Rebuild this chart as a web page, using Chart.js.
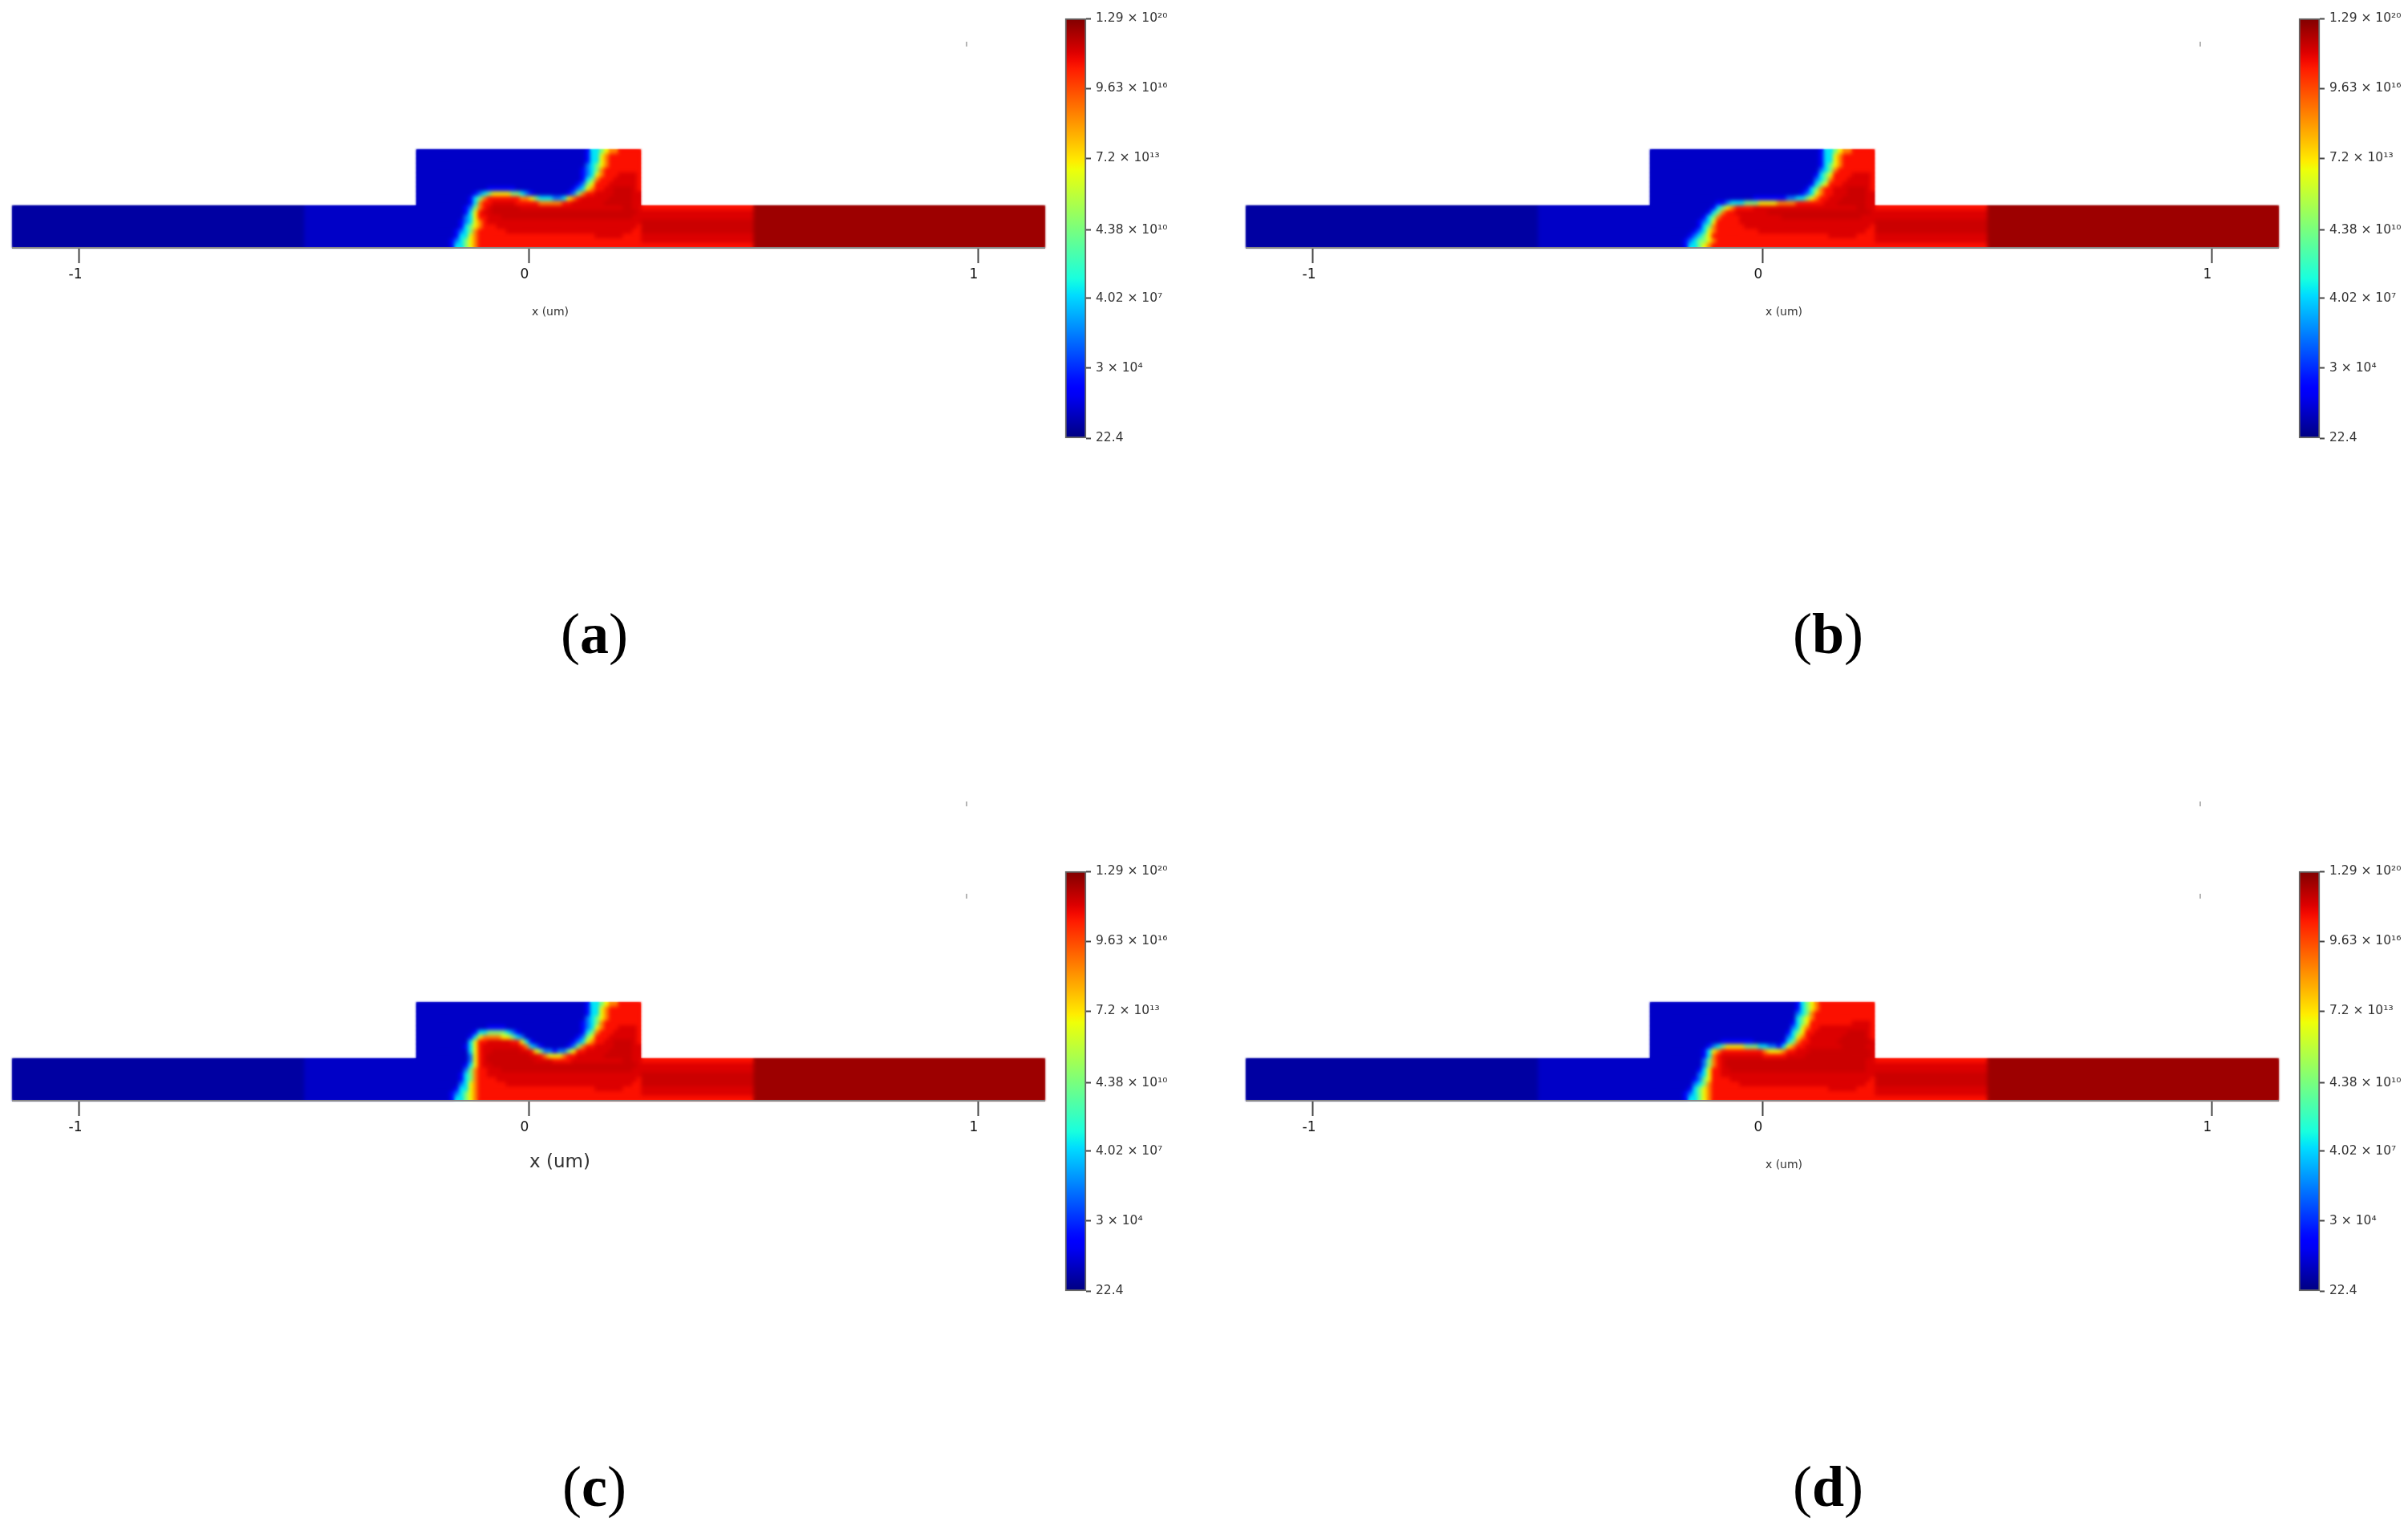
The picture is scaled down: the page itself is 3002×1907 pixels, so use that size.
<!DOCTYPE html>
<html>
<head>
<meta charset="utf-8">
<script src="https://cdn.jsdelivr.net/npm/chart.js@4"></script>
<style>
  html, body { margin: 0; padding: 0; background: #fff; }
  body { position: relative; width: 3002px; height: 1907px; overflow: hidden; }
  canvas { position: absolute; }
  canvas.base { filter: blur(0.8px); }
  canvas.soft { filter: blur(2.6px); clip-path: polygon(0 70px, 504px 70px, 504px 0, 784px 0, 784px 70px, 1288px 70px, 1288px 123px, 0 123px); }
  canvas.axis { filter: blur(0.6px); }
  canvas.bar { filter: blur(0.7px); }
  .xlabel { position: absolute; transform: translate(-50%, -50%); font-family: "DejaVu Sans"; color: #333; filter: blur(0.5px); white-space: nowrap; }
  .caption { position: absolute; transform: translate(-50%, -50%); font: 72px "Liberation Serif"; color: #000; }
  .speck { position: absolute; width: 2px; height: 6px; background: #b5b5b5; }
</style>
</head>
<body>
<script>
// log10 of the concentration for each level character used in the rows below
const levelChars = '0123456789AB'
const levelLogs = [1.91, 2.51, 3.41, 5.85, 7.92, 10.73, 13.54, 15.8, 18.1, 18.61, 18.89, 19.64]

// the source/drain stretches of the channel, one char per channel row
const farLeftLevels = '000000000'
const nearLeftLevels = '111111111'
const nearRightLevels = '899AAA998'
const farRightLevels = 'BBBBBBBBB'
const outerEdges = [[-1.15, -0.5], [-0.5, -0.25], [0.25, 0.5], [0.5, 1.15]]

// central block x -0.25..0.25, 48 columns, 21 rows top to bottom
const rowsA = [
  '11111111 11111111 11111111 11111111 11112445 67788888',
  '11111111 11111111 11111111 11111111 11112446 78888888',
  '11111111 11111111 11111111 11111111 11112446 78888888',
  '11111111 11111111 11111111 11111111 11113456 78888888',
  '11111111 11111111 11111111 11111111 11123457 88888888',
  '11111111 11111111 11111111 11111111 11123467 88899998',
  '11111111 11111111 11111111 11111111 11124578 88999998',
  '11111111 11111111 11111111 11111111 11235688 89999998',
  '11111111 11111112 22222111 11111111 12346788 99AAAA98',
  '11111111 11112345 66665543 21111111 23578899 99AAAA99',
  '11111111 11124578 88888877 65444334 67899999 9AAAAA99',
  '11111111 11124788 99999888 88777778 89999999 AAAAAA99',
  '11111111 11235789 AAAAAA99 99999999 99999999 9999AA99',
  '11111111 11246899 AAAAAAAA AAAAAAAA AAAAAAAA AAAAAAA9',
  '11111111 11346889 99AAAAAA AAAAAAAA AAAAAAAA AAAAAA99',
  '11111111 12346789 99999999 99999999 99999999 99999999',
  '11111111 12456788 89999999 99999999 99999999 99999998',
  '11111111 23457888 88899999 99999999 99999999 99999988',
  '11111111 24467888 88888888 88888888 88888899 99998888',
  '11111112 34567888 88888888 88888888 88888888 88888888',
  '11111112 44567888 88888888 88888888 88888888 88888888'
]
const rowsB = [
  '11111111 11111111 11111111 11111111 11112445 67788888',
  '11111111 11111111 11111111 11111111 11112446 78888888',
  '11111111 11111111 11111111 11111111 11112446 78888888',
  '11111111 11111111 11111111 11111111 11112456 78888888',
  '11111111 11111111 11111111 11111111 11113457 88888888',
  '11111111 11111111 11111111 11111111 11124568 88899998',
  '11111111 11111111 11111111 11111111 11134578 88999998',
  '11111111 11111111 11111111 11111111 11245688 89999998',
  '11111111 11111111 11111111 11111111 12457889 99AAAA98',
  '11111111 11111111 11111111 11111111 23467889 99AAAA99',
  '11111111 11111111 11111122 22222334 45678899 9AAAAA99',
  '11111111 11111122 34445556 66677778 88888999 AAAAAA99',
  '11111111 11111245 67888899 99999999 99999999 9999AA99',
  '11111111 11112457 88999999 9AAAAAAA AAAAAAAA AAAAAAA9',
  '11111111 11124578 88899999 9999AAAA AAAAAAAA AAAAA999',
  '11111111 11234688 88899999 99999999 99999999 99999999',
  '11111111 11245788 88889999 99999999 99999999 99999998',
  '11111111 12346788 88888889 99999999 99999999 99999988',
  '11111111 23456888 88888888 88888888 88888899 99998888',
  '11111112 34556788 88888888 88888888 88888888 88888888',
  '11111112 44567888 88888888 88888888 88888888 88888888'
]
const rowsC = [
  '11111111 11111111 11111111 11111111 11112445 67788888',
  '11111111 11111111 11111111 11111111 11112446 78888888',
  '11111111 11111111 11111111 11111111 11112446 78888888',
  '11111111 11111111 11111111 11111111 11113456 78888888',
  '11111111 11111111 11111111 11111111 11123457 88888888',
  '11111111 11111112 22211111 11111111 11123467 88899998',
  '11111111 11112445 55543211 11111111 11124578 88999998',
  '11111111 11124677 77665431 11111111 11235688 89999998',
  '11111111 11146889 99998864 21111111 12346788 99AAAA98',
  '11111111 11246899 99999987 43211111 23578899 99AAAA99',
  '11111111 11146899 AAAAAA99 86533233 56889999 9AAAAA99',
  '11111111 1113689A AAAAAAAA 99876667 88999999 AAAAAA99',
  '11111111 1113689A AAAAAAAA A9999888 89999999 9999AA99',
  '11111111 11246899 AAAAAAAA AAAAAAAA AAAAAAAA AAAAAAA9',
  '11111111 11357889 99AAAAAA AAAAAAAA AAAAAAAA AAAAAA99',
  '11111111 12457889 99999999 99999999 99999999 99999999',
  '11111111 12457888 89999999 99999999 99999999 99999998',
  '11111111 13467888 88899999 99999999 99999999 99999988',
  '11111111 24467888 88888888 88888888 88888899 99998888',
  '11111112 34567888 88888888 88888888 88888888 88888888',
  '11111112 44567888 88888888 88888888 88888888 88888888'
]
const rowsD = [
  '11111111 11111111 11111111 11111112 45678888 88888888',
  '11111111 11111111 11111111 11111112 45678888 88888888',
  '11111111 11111111 11111111 11111113 45788888 88888888',
  '11111111 11111111 11111111 11111114 56788888 88888888',
  '11111111 11111111 11111111 11111124 56888888 88899998',
  '11111111 11111111 11111111 11111134 67889999 99999998',
  '11111111 11111111 11111111 11111245 68899999 99AAAA98',
  '11111111 11111111 11111111 11111346 78999999 9AAAAA98',
  '11111111 11111112 22222211 11112457 88999999 AAAAAAA9',
  '11111111 11112345 66665554 43324678 89999999 9AAAAA99',
  '11111111 11124678 88888888 76667889 99AAAAAA AAAAAAA9',
  '11111111 11124789 99999999 88888999 9AAAAAAA AAAAAAA9',
  '11111111 11135789 AAAAAAAA AAAAAAAA AAAAAAAA AAAAAA99',
  '11111111 11135789 AAAAAAAA AAAAAAAA AAAAAAAA AAAAAA99',
  '11111111 11246889 9AAAAAAA AAAAAAAA AAAAAAAA AAAAAA99',
  '11111111 11346889 99999999 99999999 99999999 99999999',
  '11111111 12356888 89999999 99999999 99999999 99999998',
  '11111111 13457888 88899999 99999999 99999999 99999988',
  '11111111 24567888 88888888 88888888 88888899 99998888',
  '11111112 34567888 88888888 88888888 88888888 88888888',
  '11111112 44567888 88888888 88888888 88888888 88888888'
]

const xTicks = [-1, 0, 1]
const colorbarValues = [22.4, 3e4, 4.02e7, 4.38e10, 7.2e13, 9.63e16, 1.29e20]
const colorbarLabels = ['22.4', '3 × 10⁴', '4.02 × 10⁷', '4.38 × 10¹⁰', '7.2 × 10¹³', '9.63 × 10¹⁶', '1.29 × 10²⁰']

const logMin = Math.log10(22.4)
const logMax = Math.log10(1.29e20)

function clamp(v) { return Math.max(0, Math.min(1, v)) }

function jet(t) {
  const r = t < 0.89 ? clamp((t - 0.35) / 0.31) : 1 - (t - 0.89) / 0.11 * 0.5
  const g = t < 0.64 ? clamp((t - 0.125) / 0.25) : clamp((0.91 - t) / 0.27)
  const b = t < 0.34 ? clamp(0.5 + t / 0.11 * 0.5) : clamp((0.65 - t) / 0.31)
  return 'rgb(' + Math.round(r * 255) + ',' + Math.round(g * 255) + ',' + Math.round(b * 255) + ')'
}

function levelColor(ch) {
  const log = levelLogs[levelChars.indexOf(ch)]
  return jet((log - logMin) / (logMax - logMin))
}

function heatDatasets(rows) {
  const grid = rows.map(r => r.replace(/ /g, ''))
  const sets = []
  for (let i = 0; i < 48; i++) {
    // small overlap, and a bar starting exactly on 0 leaves a gap in Chart.js
    const x0 = -0.25 + i * 0.5 / 48 - 0.0005
    const x1 = -0.25 + (i + 1) * 0.5 / 48 + 0.0005
    sets.push({
      data: grid.map(() => [Math.max(x0, -0.25), Math.min(x1, 0.25)]),
      backgroundColor: grid.map(r => levelColor(r[i]))
    })
  }
  const outer = [farLeftLevels, nearLeftLevels, nearRightLevels, farRightLevels]
  outer.forEach((levels, k) => {
    sets.push({
      data: grid.map((r, n) => n < 12 ? null : outerEdges[k]),
      backgroundColor: grid.map((r, n) => n < 12 ? 'transparent' : levelColor(levels[n - 12]))
    })
  })
  return sets
}

function addCanvas(cls, left, top, w, h) {
  const c = document.createElement('canvas')
  c.className = cls
  c.width = w
  c.height = h
  c.style.left = left + 'px'
  c.style.top = top + 'px'
  c.style.width = w + 'px'
  c.style.height = h + 'px'
  document.body.appendChild(c)
  return c
}

function addText(cls, html, x, y, size) {
  const d = document.createElement('div')
  d.className = cls
  d.innerHTML = html
  d.style.left = x + 'px'
  d.style.top = y + 'px'
  if (size) d.style.fontSize = size + 'px'
  document.body.appendChild(d)
}

function heatChart(cls, rows, dx, dy) {
  new Chart(addCanvas(cls, 15 + dx, 186 + dy, 1288, 123), {
    type: 'bar',
    data: { labels: rows.map((r, i) => 'r' + i), datasets: heatDatasets(rows) },
    options: {
      indexAxis: 'y',
      responsive: false,
      animation: false,
      layout: { padding: 0 },
      datasets: { bar: { grouped: false, barPercentage: 1, categoryPercentage: 1, borderWidth: 0 } },
      plugins: { legend: { display: false }, tooltip: { enabled: false } },
      scales: {
        y: { display: false },
        x: { type: 'linear', display: false, min: -1.15, max: 1.15 }
      }
    }
  })
}

function axisChart(dx, dy) {
  new Chart(addCanvas('axis', 15 + dx, 186 + dy, 1288, 173), {
    type: 'bar',
    data: { labels: [], datasets: [] },
    options: {
      indexAxis: 'y',
      responsive: false,
      animation: false,
      layout: { padding: 0 },
      plugins: { legend: { display: false }, tooltip: { enabled: false } },
      scales: {
        y: { display: false },
        x: {
          type: 'linear',
          min: -1.15,
          max: 1.15,
          afterBuildTicks: s => { s.ticks = xTicks.map(v => ({ value: v })) },
          afterFit: s => { s.height = 50 },
          border: { display: true, color: '#8a8a8a', width: 2 },
          grid: { drawOnChartArea: false, tickLength: 19, tickWidth: 2, tickColor: '#444' },
          ticks: {
            color: '#111',
            font: { family: 'DejaVu Sans', size: 17 },
            maxRotation: 0,
            padding: 4,
            labelOffset: -5,
            callback: v => String(v)
          }
        }
      }
    }
  })
}

function colorbarChart(dx, dy) {
  new Chart(addCanvas('bar', 1324 + dx, 3 + dy, 170, 563), {
    type: 'bar',
    data: {
      labels: [''],
      datasets: [{
        data: [[22.4, 1.29e20]],
        clip: false,
        borderWidth: 2,
        borderColor: '#666',
        borderSkipped: false,
        backgroundColor: ctx => {
          const area = ctx.chart.chartArea
          if (!area) return '#000'
          const g = ctx.chart.ctx.createLinearGradient(0, area.bottom, 0, area.top)
          for (let i = 0; i <= 50; i++) g.addColorStop(i / 50, jet(i / 50))
          return g
        }
      }]
    },
    options: {
      responsive: false,
      animation: false,
      layout: { padding: { left: 4, top: 20, bottom: 20, right: 0 } },
      datasets: { bar: { barPercentage: 1, categoryPercentage: 1 } },
      plugins: { legend: { display: false }, tooltip: { enabled: false } },
      scales: {
        x: { display: false },
        y: {
          type: 'logarithmic',
          position: 'right',
          min: 22.4,
          max: 1.29e20,
          afterBuildTicks: s => { s.ticks = colorbarValues.map(v => ({ value: v })) },
          afterFit: s => { s.width = 140 },
          border: { display: false },
          grid: { drawOnChartArea: false, tickLength: 6, tickWidth: 2, tickColor: '#444' },
          ticks: {
            autoSkip: false,
            color: '#333',
            font: { family: 'DejaVu Sans', size: 15.5 },
            padding: 6,
            callback: (v, i) => colorbarLabels[i]
          }
        }
      }
    }
  })
}

const panelRows = [rowsA, rowsB, rowsC, rowsD]
const panelNames = ['a', 'b', 'c', 'd']
const panelOffsets = [[0, 0], [1538, 0], [0, 1063], [1538, 1063]]

panelRows.forEach((rows, i) => {
  const dx = panelOffsets[i][0]
  const dy = panelOffsets[i][1]
  heatChart('base', rows, dx, dy)
  heatChart('soft', rows, dx, dy)
  axisChart(dx, dy)
  colorbarChart(dx, dy)
  addText('caption', '(<b>' + panelNames[i] + '</b>)', 741 + dx, 790 + dy)
  if (i === 2) addText('xlabel', 'x (um)', 698 + dx, 1447, 23)
  else addText('xlabel', 'x (um)', 686 + dx, 388 + dy, 14)
  const specks = i < 2 ? [52] : [999, 1114]
  specks.forEach(y => {
    const s = document.createElement('div')
    s.className = 'speck'
    s.style.left = 1204 + dx + 'px'
    s.style.top = y + 'px'
    document.body.appendChild(s)
  })
})
</script>
</body>
</html>
